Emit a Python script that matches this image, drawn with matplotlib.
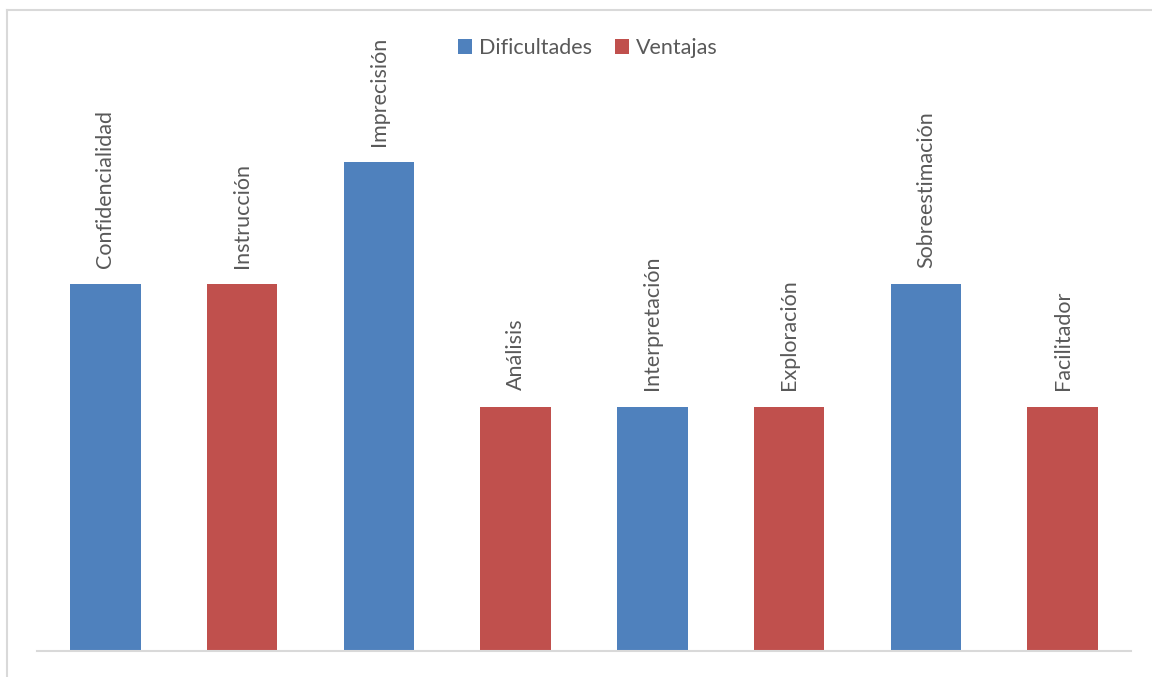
import numpy as np
import matplotlib.pyplot as plt
from matplotlib.patches import Patch
from matplotlib.lines import Line2D

# Data
categories = ['Confidencialidad', 'Instrucción', 'Imprecisión', 'Análisis',
              'Interpretación', 'Exploración', 'Sobreestimación', 'Facilitador']
values = [3, 3, 4, 2, 2, 2, 3, 2]
series = ['Dificultades', 'Ventajas', 'Dificultades', 'Ventajas',
          'Dificultades', 'Ventajas', 'Dificultades', 'Ventajas']

colors = {'Dificultades': '#4F81BD', 'Ventajas': '#C0504D'}
text_color = '#595959'

plt.rcParams['font.family'] = ['Lato', 'DejaVu Sans']

fig = plt.figure(figsize=(11.52, 6.77), dpi=100)
W, H = 1152, 677
ax = fig.add_axes([37 / W, (H - 651) / H, (1131 - 37) / W, (651 - 40) / H])

x = np.arange(len(categories))
bar_colors = [colors[s] for s in series]
ax.bar(x, values, width=0.515, color=bar_colors, zorder=2)

for xi, v, lab in zip(x, values, categories):
    ax.annotate(lab, (xi, v), xytext=(0, 12), textcoords='offset points',
                rotation=90, ha='center', va='bottom', fontsize=15.5,
                color=text_color)

ax.set_xlim(-0.5, len(categories) - 0.5)
ax.set_ylim(0, 5)
for s in ['top', 'right', 'left']:
    ax.spines[s].set_visible(False)
ax.spines['bottom'].set_color('#D9D9D9')
ax.spines['bottom'].set_linewidth(1.5)
ax.set_xticks([])
ax.set_yticks([])

handles = [Patch(facecolor=colors['Dificultades'], label='Dificultades'),
           Patch(facecolor=colors['Ventajas'], label='Ventajas')]
leg = fig.legend(handles=handles, loc='center', bbox_to_anchor=(588 / W, (H - 48) / H),
                 ncol=2, frameon=False, fontsize=15.5, handlelength=0.65,
                 handleheight=0.65, handletextpad=0.3, columnspacing=1.1)
for t in leg.get_texts():
    t.set_color(text_color)

# chart border (top and left visible)
fig.add_artist(Line2D([7 / W, 1], [(H - 10) / H, (H - 10) / H], color='#D9D9D9', lw=1.5))
fig.add_artist(Line2D([7 / W, 7 / W], [0, (H - 10) / H], color='#D9D9D9', lw=1.5))

fig.savefig('out.png', dpi=100, facecolor='white')
